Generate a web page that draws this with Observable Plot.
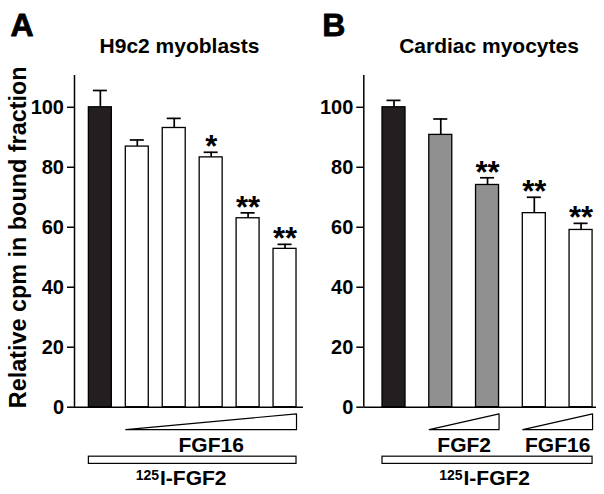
<!DOCTYPE html>
<html><head><meta charset="utf-8">
<script src="https://cdn.jsdelivr.net/npm/d3@7"></script>
<script src="https://cdn.jsdelivr.net/npm/@observablehq/plot@0.6"></script>
<style>
html,body{margin:0;padding:0;background:#fff;overflow:hidden;}
#chart{display:flex;width:604px;height:494px;}
#chart svg text{font-family:"Liberation Sans",Arial,Helvetica,sans-serif;font-weight:bold;}
</style></head><body><div id="chart"></div>
<script>
// ---- Panel A: H9c2 myoblasts ----
const categoriesA = ["125I-FGF2", "+FGF16 dose 1", "+FGF16 dose 2", "+FGF16 dose 3", "+FGF16 dose 4", "+FGF16 dose 5"];
const groupsA = ["tracer", "FGF16", "FGF16", "FGF16", "FGF16", "FGF16"];
const valuesA = [100, 86.9, 93.1, 83.3, 63.0, 52.8];
const errorsA = [5.6, 2.2, 3.2, 1.7, 1.8, 1.5];
const signifA = ["", "", "", "*", "**", "**"];
// ---- Panel B: Cardiac myocytes ----
const categoriesB = ["125I-FGF2", "+FGF2 dose 1", "+FGF2 dose 2", "+FGF16 dose 1", "+FGF16 dose 2"];
const groupsB = ["tracer", "FGF2", "FGF2", "FGF16", "FGF16"];
const valuesB = [100, 90.8, 74.1, 64.7, 59.1];
const errorsB = [2.3, 5.3, 2.4, 5.3, 2.2];
const signifB = ["", "", "**", "**", "**"];
// ---- labels ----
const yTicks = [0, 20, 40, 60, 80, 100];
const wedgesA = [{label: "FGF16", from: 1, to: 5}];
const wedgesB = [{label: "FGF2", from: 1, to: 2}, {label: "FGF16", from: 3, to: 4}];
const titles = ["H9c2 myoblasts", "Cardiac myocytes"];
const panelLetters = ["A", "B"];
const tracerLabel = ["125", "I-FGF2"];
const yLabel = "Relative cpm in bound fraction";

const groupColor = {tracer: "#231f20", FGF2: "#909090", FGF16: "#ffffff"};
const yTop = 110.6;

function panel(p) {
  const rows = p.cats.map((c, i) => ({i, cat: c, group: p.groups[i], v: p.values[i], top: p.values[i] + p.errors[i], sig: p.signif[i]}));
  const last = rows.length - 1;
  const hw = p.hw;
  const pxPerUnit = (p.width - p.marginLeft - p.marginRight) / (p.xDomain[1] - p.xDomain[0]);
  const tickLen = 7 / pxPerUnit;
  const x0 = p.xDomain[0];
  const triBottom = -7.5, triTop = -2.2;
  const tri = p.wedges.flatMap((w, k) => [
    {k, x: w.from - hw, y: triBottom}, {k, x: w.to + hw, y: triBottom},
    {k, x: w.to + hw, y: triTop}, {k, x: w.from - hw, y: triBottom}
  ]);
  const marks = [
    Plot.ruleX([x0], {y1: 0, y2: yTop, strokeWidth: 1.5}),
    Plot.ruleY(yTicks, {y: d => d, x1: x0 - tickLen, x2: x0, strokeWidth: 1.5}),
    Plot.text(yTicks, {x: x0, y: d => d, text: d => String(d), textAnchor: "end", lineAnchor: "middle", fontSize: 20, letterSpacing: -1.2, dx: -10.5}),
    Plot.rect(rows, {x1: d => d.i - hw, x2: d => d.i + hw, y1: 0, y2: "v", fill: d => groupColor[d.group], stroke: "black", strokeWidth: 1.3}),
    Plot.ruleX(rows, {x: "i", y1: "v", y2: "top", strokeWidth: 1.7}),
    Plot.ruleY(rows, {y: "top", x1: d => d.i - p.cap, x2: d => d.i + p.cap, strokeWidth: 1.7}),
    Plot.text(rows, {x: "i", y: "top", text: "sig", fontSize: 31, lineAnchor: "bottom", dy: 5}),
    Plot.ruleY([0], {strokeWidth: 1.5}),
    Plot.line(tri, {x: "x", y: "y", z: "k", stroke: "black", strokeWidth: 1.2}),
    Plot.text(p.wedges, {x: d => (d.from + d.to) / 2, y: -15, text: "label", fontSize: 21, lineAnchor: "bottom"}),
    Plot.rect([0], {x1: -hw, x2: last + hw, y1: -16.5, y2: -18.9, fill: "white", stroke: "black", strokeWidth: 1.2}),
    Plot.text([tracerLabel[0]], {x: last / 2, y: -26.1, text: d => d, textAnchor: "end", lineAnchor: "bottom", fontSize: 14, dy: -5, dx: p.tracerDx}),
    Plot.text([tracerLabel[1]], {x: last / 2, y: -26.1, text: d => d, textAnchor: "start", fontSize: 21, lineAnchor: "bottom", dx: p.tracerDx + 1}),
    Plot.text([p.title], {frameAnchor: "top", text: d => d, fontSize: 21, lineAnchor: "bottom", dx: p.titleDx, dy: -23}),
    Plot.text([p.letter], {frameAnchor: "top-left", text: d => d, textAnchor: "start", lineAnchor: "bottom", fontSize: 32, fill: "black", stroke: "black", strokeWidth: 0.8, dx: p.letterDx, dy: -40})
  ];
  if (p.yLabel) {
    marks.push(Plot.text([p.yLabel], {frameAnchor: "left", text: d => d, rotate: -90, fontSize: 23.4, lineAnchor: "bottom", textAnchor: "middle", dx: -49, dy: -4}));
  }
  return Plot.plot({
    width: p.width, height: 494,
    marginLeft: p.marginLeft, marginRight: p.marginRight, marginTop: 75, marginBottom: 87.3,
    x: {domain: p.xDomain, axis: null},
    y: {domain: [0, yTop], axis: null},
    style: {background: "white", color: "black", fontFamily: "'Liberation Sans', Arial, sans-serif", fontWeight: "bold", overflow: "visible"},
    marks
  });
}

const chart = document.getElementById("chart");
chart.append(panel({
  cats: categoriesA, groups: groupsA, values: valuesA, errors: errorsA, signif: signifA, wedges: wedgesA,
  title: titles[0], letter: panelLetters[0], yLabel,
  width: 304, marginLeft: 74, marginRight: 1, xDomain: [-0.7, 5.5], hw: 0.311, cap: 0.19,
  titleDx: -9.5, letterDx: -64, tracerDx: -33.7
}));
chart.append(panel({
  cats: categoriesB, groups: groupsB, values: valuesB, errors: errorsB, signif: signifB, wedges: wedgesB,
  title: titles[1], letter: panelLetters[1], yLabel: null,
  width: 300, marginLeft: 59.3, marginRight: 8, xDomain: [-0.646, 4.33], hw: 0.246, cap: 0.15,
  titleDx: 8.85, letterDx: -41.6, tracerDx: -25
}));
</script></body></html>
